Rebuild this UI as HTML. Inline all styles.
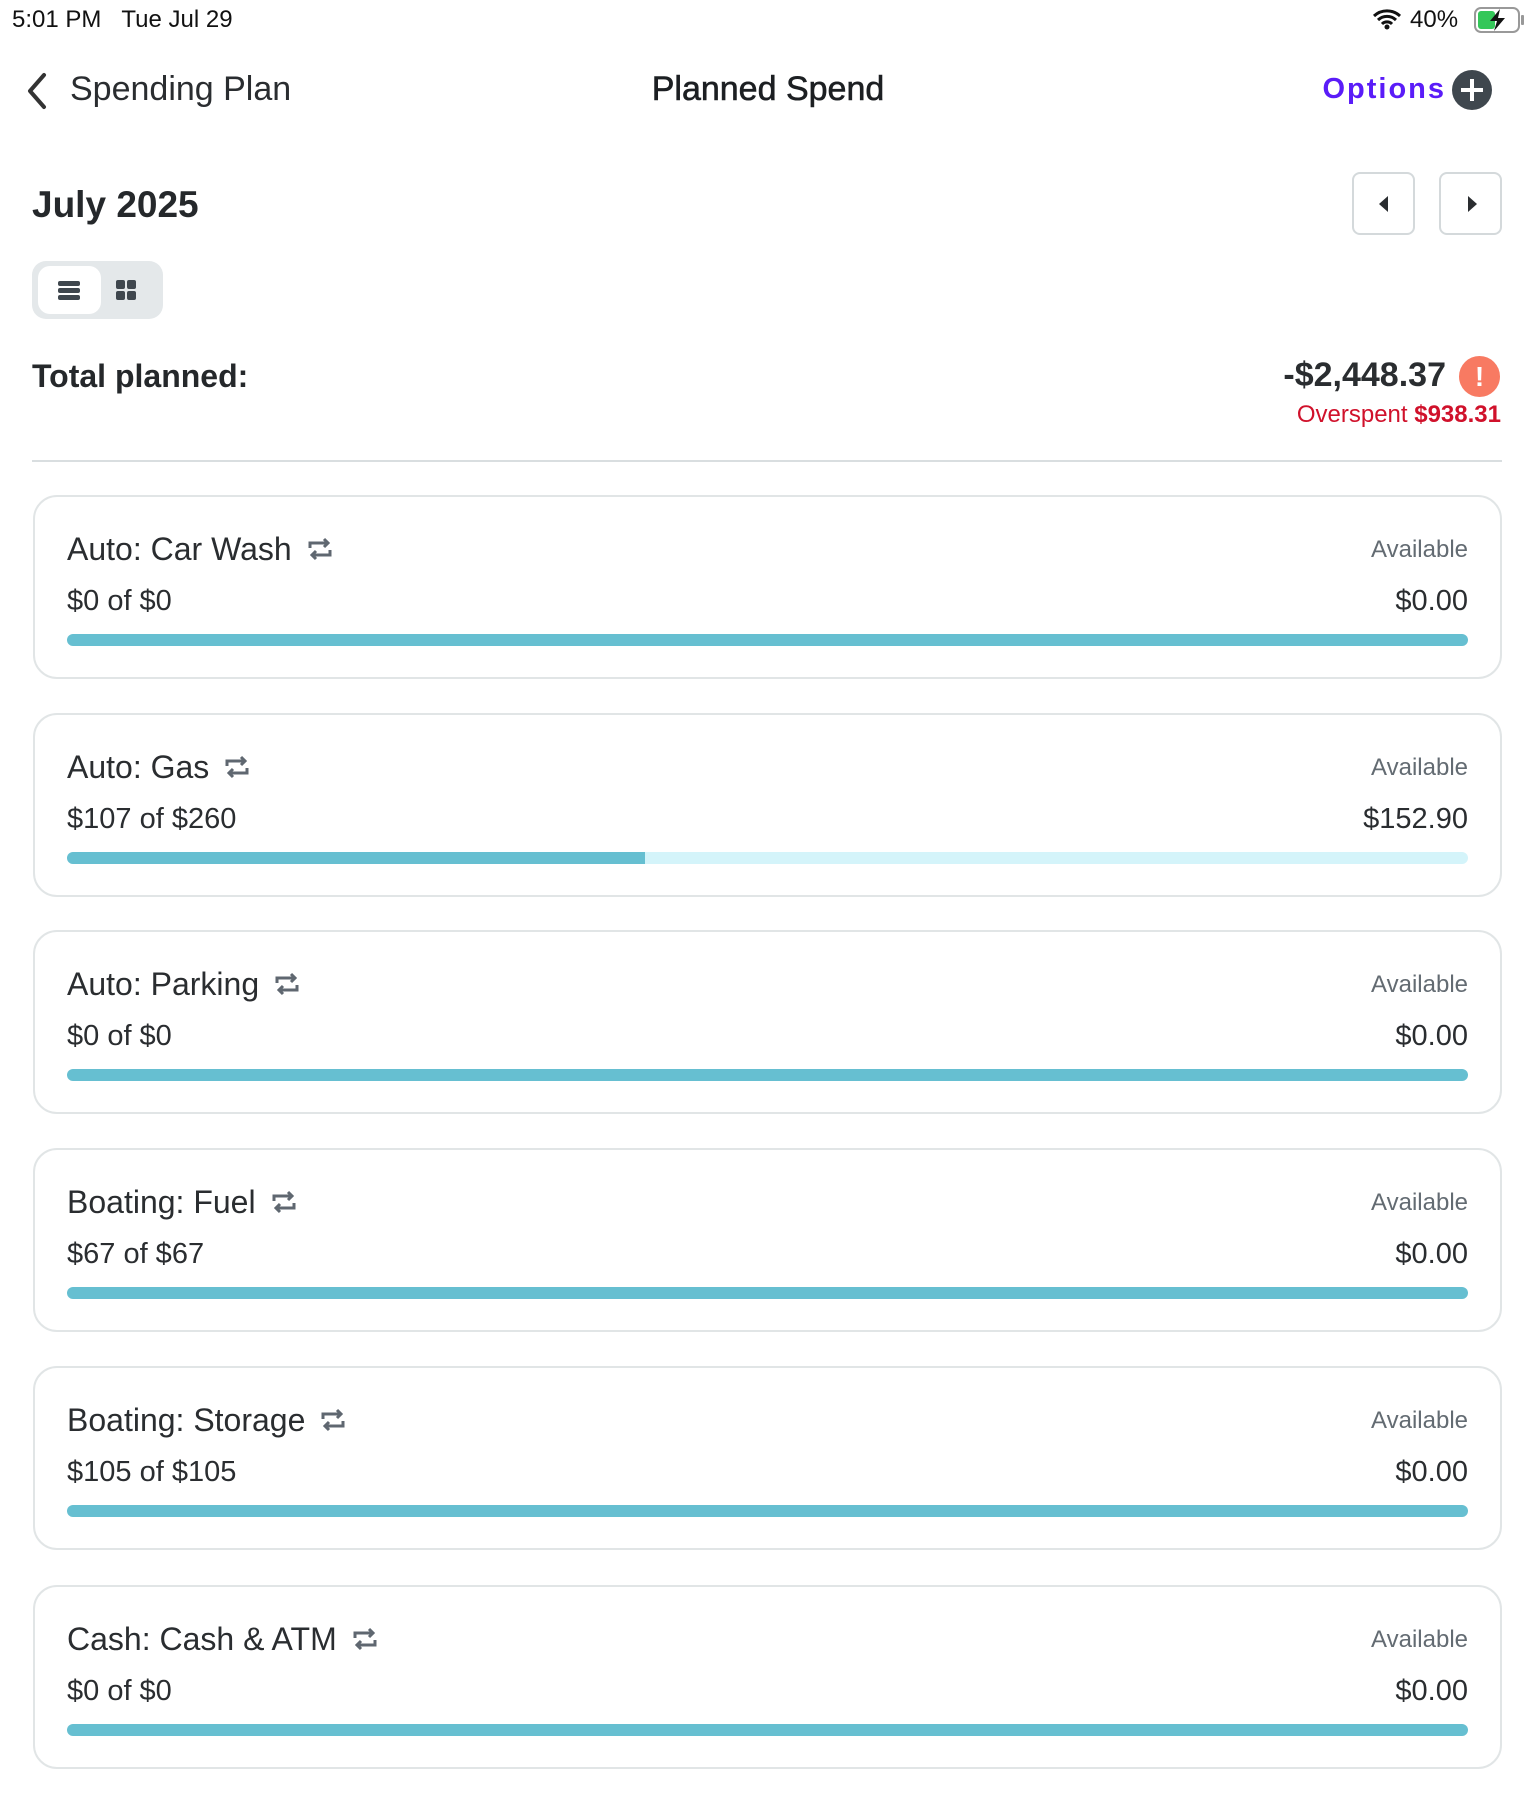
<!DOCTYPE html>
<html><head><meta charset="utf-8"><style>
*{margin:0;padding:0;box-sizing:border-box}
body{width:1536px;height:1797px;background:#fff;font-family:"Liberation Sans",sans-serif;color:#222;position:relative;overflow:hidden}
.a{position:absolute;white-space:nowrap}
.card{position:absolute;left:33px;width:1469px;height:184px;border:2px solid #e1e5e6;border-radius:24px;background:#fff}
.card .t{position:absolute;left:32px;top:34px;font-size:32px;color:#2a2d30}
.card .av{position:absolute;right:32px;top:39px;font-size:24px;color:#636b72}
.card .m{position:absolute;left:32px;top:88px;font-size:29px;color:#2a2d30}
.card .v{position:absolute;right:32px;top:88px;font-size:29px;color:#2a2d30}
.card .bar{position:absolute;left:32px;right:32px;top:137px;height:12px;border-radius:6px;background:#66bfd1;overflow:hidden}
.rep{display:inline-block;vertical-align:middle;margin-left:14px}
</style></head><body>
<div class="a" style="left:12px;top:6px;font-size:24px;color:#111">5:01 PM&nbsp;&nbsp;&nbsp;Tue Jul 29</div>
<div class="a" style="left:1410px;top:6px;font-size:24px;color:#111">40%</div>
<svg class="a" style="left:1372px;top:8px" width="30" height="22" viewBox="0 0 30 22"><path d="M2 8a19 19 0 0 1 26 0M6 12a13 13 0 0 1 18 0M10 16a7 7 0 0 1 10 0" stroke="#111" stroke-width="3" fill="none"/><circle cx="15" cy="19" r="2.5" fill="#111"/></svg>
<svg class="a" style="left:1474px;top:7px" width="52" height="26" viewBox="0 0 52 26"><rect x="1" y="1" width="44" height="24" rx="6" fill="none" stroke="#999" stroke-width="2"/><rect x="4" y="4" width="17" height="18" rx="3" fill="#34c759"/><rect x="47" y="8" width="3" height="10" rx="1" fill="#999"/><path d="M26 2 L16 14 L23 14 L20 24 L31 11 L24 11 Z" fill="#111"/></svg>
<svg class="a" style="left:24px;top:72px" width="26" height="38" viewBox="0 0 26 38"><path d="M20 3 L6 19 L20 35" stroke="#333" stroke-width="4" fill="none" stroke-linecap="round" stroke-linejoin="round"/></svg>
<div class="a" style="left:70px;top:70px;font-size:34px;color:#2a2d30">Spending Plan</div>
<div class="a" style="left:648px;top:70px;width:240px;text-align:center;font-size:34px;color:#1c1f22;-webkit-text-stroke:0.6px #1c1f22">Planned Spend</div>
<div class="a" style="right:90px;top:73px;font-size:29px;font-weight:bold;color:#5a1cf8;letter-spacing:2px">Options</div>
<div class="a" style="left:1452px;top:70px;width:40px;height:40px;border-radius:50%;background:#3f474e"></div>
<div class="a" style="left:1470px;top:79px;width:4px;height:22px;background:#fff"></div>
<div class="a" style="left:1461px;top:88px;width:22px;height:4px;background:#fff"></div>
<div class="a" style="left:32px;top:184px;font-size:37px;font-weight:bold;color:#25282b">July 2025</div>
<div class="a" style="left:1352px;top:172px;width:63px;height:63px;border:2px solid #d4d9db;border-radius:8px"></div>
<div class="a" style="left:1439px;top:172px;width:63px;height:63px;border:2px solid #d4d9db;border-radius:8px"></div>
<svg class="a" style="left:1376px;top:194px" width="16" height="20"><path d="M12 2 L3 10 L12 18Z" fill="#2a2d30"/></svg>
<svg class="a" style="left:1464px;top:194px" width="16" height="20"><path d="M4 2 L13 10 L4 18Z" fill="#2a2d30"/></svg>
<div class="a" style="left:32px;top:261px;width:131px;height:58px;border-radius:14px;background:#e4e8ea"></div>
<div class="a" style="left:38px;top:266px;width:63px;height:48px;border-radius:12px;background:#fff"></div>
<div class="a" style="left:58px;top:281px;width:22px;height:5px;border-radius:2px;background:#3f474e"></div>
<div class="a" style="left:58px;top:288px;width:22px;height:5px;border-radius:2px;background:#3f474e"></div>
<div class="a" style="left:58px;top:295px;width:22px;height:5px;border-radius:2px;background:#3f474e"></div>
<div class="a" style="left:116px;top:280px;width:9px;height:9px;border-radius:2px;background:#3f474e"></div>
<div class="a" style="left:127px;top:280px;width:9px;height:9px;border-radius:2px;background:#3f474e"></div>
<div class="a" style="left:116px;top:291px;width:9px;height:9px;border-radius:2px;background:#3f474e"></div>
<div class="a" style="left:127px;top:291px;width:9px;height:9px;border-radius:2px;background:#3f474e"></div>
<div class="a" style="left:32px;top:358px;font-size:32px;font-weight:bold;color:#25282b">Total planned:</div>
<div class="a" style="right:90px;top:356px;font-size:34px;font-weight:bold;color:#2a2d30">-$2,448.37</div>
<div class="a" style="left:1459px;top:356px;width:41px;height:41px;border-radius:50%;background:#f87a62;color:#fff;font-weight:bold;font-size:28px;text-align:center;line-height:41px">!</div>
<div class="a" style="right:35px;top:401px;font-size:24px;color:#d0112b">Overspent <b>$938.31</b></div>
<div class="a" style="left:32px;top:460px;width:1470px;height:2px;background:#d9dee0"></div>

<div class="card" style="top:495px"><div class="t">Auto: Car Wash<span class="rep"><svg width="28" height="26" viewBox="0 0 28 26"><path d="M4 12V7h18M18 3l4 4-4 4M24 14v5H6M10 15l-4 4 4 4" stroke="#5f6770" stroke-width="3" fill="none"/></svg></span></div><div class="av">Available</div><div class="m">$0 of $0</div><div class="v">$0.00</div><div class="bar"></div></div>
<div class="card" style="top:713px"><div class="t">Auto: Gas<span class="rep"><svg width="28" height="26" viewBox="0 0 28 26"><path d="M4 12V7h18M18 3l4 4-4 4M24 14v5H6M10 15l-4 4 4 4" stroke="#5f6770" stroke-width="3" fill="none"/></svg></span></div><div class="av">Available</div><div class="m">$107 of $260</div><div class="v">$152.90</div><div class="bar" style="background:#d4f4fa"><div style="width:578px;height:100%;background:#66bfd1"></div></div></div>
<div class="card" style="top:930px"><div class="t">Auto: Parking<span class="rep"><svg width="28" height="26" viewBox="0 0 28 26"><path d="M4 12V7h18M18 3l4 4-4 4M24 14v5H6M10 15l-4 4 4 4" stroke="#5f6770" stroke-width="3" fill="none"/></svg></span></div><div class="av">Available</div><div class="m">$0 of $0</div><div class="v">$0.00</div><div class="bar"></div></div>
<div class="card" style="top:1148px"><div class="t">Boating: Fuel<span class="rep"><svg width="28" height="26" viewBox="0 0 28 26"><path d="M4 12V7h18M18 3l4 4-4 4M24 14v5H6M10 15l-4 4 4 4" stroke="#5f6770" stroke-width="3" fill="none"/></svg></span></div><div class="av">Available</div><div class="m">$67 of $67</div><div class="v">$0.00</div><div class="bar"></div></div>
<div class="card" style="top:1366px"><div class="t">Boating: Storage<span class="rep"><svg width="28" height="26" viewBox="0 0 28 26"><path d="M4 12V7h18M18 3l4 4-4 4M24 14v5H6M10 15l-4 4 4 4" stroke="#5f6770" stroke-width="3" fill="none"/></svg></span></div><div class="av">Available</div><div class="m">$105 of $105</div><div class="v">$0.00</div><div class="bar"></div></div>
<div class="card" style="top:1585px"><div class="t">Cash: Cash &amp; ATM<span class="rep"><svg width="28" height="26" viewBox="0 0 28 26"><path d="M4 12V7h18M18 3l4 4-4 4M24 14v5H6M10 15l-4 4 4 4" stroke="#5f6770" stroke-width="3" fill="none"/></svg></span></div><div class="av">Available</div><div class="m">$0 of $0</div><div class="v">$0.00</div><div class="bar"></div></div>
</body></html>
